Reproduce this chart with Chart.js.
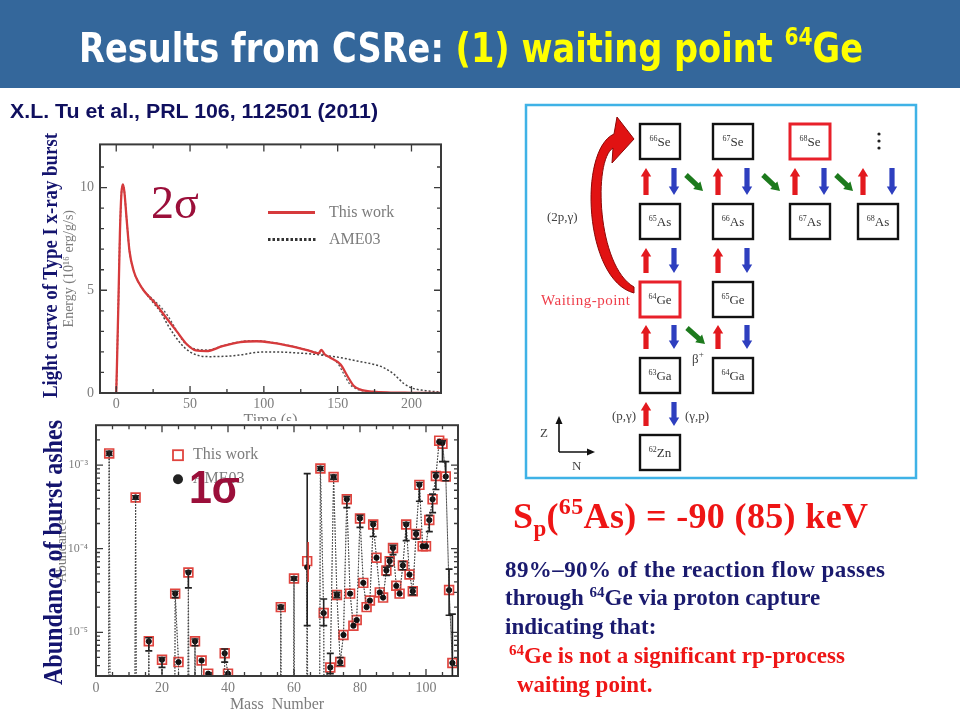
<!DOCTYPE html>
<html>
<head>
<meta charset="utf-8">
<script src="https://cdn.jsdelivr.net/npm/chart.js@4.4.1/dist/chart.umd.min.js"></script>
<style>
  body { margin: 0; width: 960px; height: 720px; background: #fff; position: relative; overflow: hidden; }
  canvas { position: absolute; }
  #curve { left: 55px; top: 130px; width: 400px; height: 302px; }
  #cover { position: absolute; left: 55px; top: 421px; width: 408px; height: 294px; background: #fff; }
  #ashes { left: 55px; top: 410px; width: 408px; height: 305px; }
  #page { position: absolute; left: 0; top: 0; }
</style>
</head>
<body>
<canvas id="curve" width="400" height="302"></canvas>
<div id="cover"></div>
<canvas id="ashes" width="408" height="305"></canvas>

<svg id="page" width="960" height="720" xmlns="http://www.w3.org/2000/svg">
  <rect x="0" y="0" width="960" height="88" fill="#34679b"/>
  <text x="79" y="62" font-family="Liberation Sans Narrow, DejaVu Sans Condensed, sans-serif" font-weight="bold" font-size="40" fill="#fff" textLength="784" lengthAdjust="spacingAndGlyphs">Results from CSRe: <tspan fill="#ffff00">(1) waiting point <tspan font-size="24" dy="-17">64</tspan><tspan dy="17">Ge</tspan></tspan></text>

  <text x="10" y="118" font-family="Liberation Sans, Arial, sans-serif" font-weight="bold" font-size="20" fill="#0f0f5e" textLength="368" lengthAdjust="spacingAndGlyphs">X.L. Tu et al., PRL 106, 112501 (2011)</text>

  <text transform="translate(57,398) rotate(-90)" font-family="Liberation Serif, serif" font-weight="bold" font-size="20" fill="#14146e" textLength="265" lengthAdjust="spacingAndGlyphs">Light curve of Type I x-ray burst</text>
  <text transform="translate(62,685) rotate(-90)" font-family="Liberation Serif, serif" font-weight="bold" font-size="28" fill="#14146e" textLength="265" lengthAdjust="spacingAndGlyphs">Abundance of burst ashes</text>

  <text x="151" y="218" font-family="Liberation Serif, serif" font-size="46" fill="#9b0f3a">2σ</text>
  <text x="189" y="503" font-family="Liberation Sans, Arial, sans-serif" font-weight="bold" font-size="46" fill="#9b0f3a" textLength="51" lengthAdjust="spacingAndGlyphs">1σ</text>

  <rect x="526" y="105" width="390" height="373" fill="none" stroke="#3fb2e6" stroke-width="2.5"/>
  <g id="diagram"></g>

  <text x="513" y="528" font-family="Liberation Serif, serif" font-weight="bold" font-size="36" fill="#ee1515" textLength="355">S<tspan font-size="23" dy="8">p</tspan><tspan dy="-8">(</tspan><tspan font-size="24" dy="-14">65</tspan><tspan dy="14">As) = -90 (85) keV</tspan></text>
  <g font-family="Liberation Serif, serif" font-weight="bold" font-size="23">
    <text x="505" y="577" fill="#1a1a6e" textLength="380">89%–90% of the reaction flow passes</text>
    <text x="505" y="605" fill="#1a1a6e">through <tspan font-size="15" dy="-8">64</tspan><tspan dy="8">Ge via proton capture</tspan></text>
    <text x="505" y="634" fill="#1a1a6e">indicating that:</text>
    <text x="509" y="663" fill="#ee1515"><tspan font-size="15" dy="-8">64</tspan><tspan dy="8">Ge is not a significant rp-process</tspan></text>
    <text x="517" y="692" fill="#ee1515">waiting point.</text>
  </g>
</svg>

<script>
// light curve (Energy, 10^16 erg/g/s vs time, s)
const timeThisWork = [0, 0.5, 1.5, 2.5, 3.5, 4.5, 5.5, 7, 9, 12, 15, 19, 26, 34, 41, 48, 54, 61, 72, 84,
  95, 106, 118, 130, 137, 139, 141, 145, 152, 156, 161, 165, 174, 186, 200, 220];
const energyThisWork = [0, 1.4, 4.5, 7.8, 9.7, 10.15, 9.8, 8.5, 6.9, 5.9, 5.4, 4.95, 4.4, 3.65, 3.0, 2.36, 2.07, 2.04, 2.28, 2.48,
  2.52, 2.44, 2.28, 2.07, 1.93, 2.1, 1.9, 1.72, 1.39, 0.9, 0.34, 0.18, 0.06, 0.02, 0.01, 0];
const timeAme03 = [0, 0.5, 1.5, 2.5, 3.5, 4.5, 5.5, 7, 9, 12, 15, 19, 25, 30, 35, 40, 45, 50, 56, 63,
  77, 85, 95, 106, 118, 129, 140, 152, 163, 174, 181, 188, 195, 200, 208, 220];
const energyAme03 = [0, 1.4, 4.5, 7.8, 9.7, 10.15, 9.8, 8.5, 6.9, 5.9, 5.4, 4.95, 4.4, 3.95, 3.3, 2.75, 2.3, 2.0, 1.82, 1.77,
  1.8, 1.86, 1.98, 2.0, 1.97, 1.92, 1.84, 1.72, 1.56, 1.4, 1.24, 0.92, 0.45, 0.25, 0.13, 0.04];
// second dotted curve that runs just above the red one
const timeDotted2 = [19, 25, 30, 35, 40, 45, 50, 55, 62, 72, 84, 95, 106, 118, 130, 140, 146, 150, 154, 158, 162, 170, 180];
const energyDotted2 = [4.95, 4.55, 4.2, 3.75, 3.15, 2.55, 2.25, 2.12, 2.1, 2.3, 2.5, 2.55, 2.46, 2.3, 2.08, 1.88, 1.7, 1.45, 0.95, 0.45, 0.22, 0.08, 0.03];
const timeTicks = [0, 50, 100, 150, 200];
const timeMinorTicks = [25, 75, 125, 175];
const energyTicks = [0, 5, 10];
const energyMinorTicks = [1, 2, 3, 4, 6, 7, 8, 9, 11];

// burst ashes (abundance vs mass number)
const massNumber = [4, 12, 16, 20, 24, 25, 28, 30, 32, 34, 39, 40, 56, 60, 64, 68, 69, 71,
  72, 73, 74, 75, 76, 77, 78, 79, 80, 81, 82, 83, 84, 85, 86, 87, 88, 89, 90,
  91, 92, 93, 94, 95, 96, 97, 98, 99, 100, 101, 102, 103, 104, 105, 106, 107, 108];
const abundThisWork = [1.38e-3, 4.1e-4, 7.8e-6, 4.7e-6, 2.9e-5, 4.4e-6, 5.2e-5, 7.8e-6, 4.6e-6, 3.2e-6, 5.6e-6, 3.2e-6, 2.0e-5, 4.4e-5, 7.1e-5, 9.1e-4, 1.7e-5, 3.8e-6,
  7.2e-4, 2.8e-5, 4.4e-6, 9.3e-6, 3.9e-4, 2.9e-5, 1.2e-5, 1.4e-5, 2.3e-4, 3.9e-5, 2.0e-5, 2.4e-5, 1.95e-4, 7.8e-5, 3.0e-5, 2.6e-5, 5.5e-5, 7.1e-5, 1.02e-4,
  3.6e-5, 2.9e-5, 6.3e-5, 1.95e-4, 4.9e-5, 3.1e-5, 1.5e-4, 5.8e-4, 1.07e-4, 1.07e-4, 2.2e-4, 3.9e-4, 7.4e-4, 1.96e-3, 1.8e-3, 7.3e-4, 3.2e-5, 4.3e-6];
const abundAme03 = [1.38e-3, 4.1e-4, 7.8e-6, 4.7e-6, 2.9e-5, 4.4e-6, 5.2e-5, 7.8e-6, 4.6e-6, 3.2e-6, 5.6e-6, 3.2e-6, 2.0e-5, 4.4e-5, 6.0e-5, 9.1e-4, 1.7e-5, 3.8e-6,
  7.2e-4, 2.8e-5, 4.4e-6, 9.3e-6, 3.9e-4, 2.9e-5, 1.2e-5, 1.4e-5, 2.3e-4, 3.9e-5, 2.0e-5, 2.4e-5, 1.95e-4, 7.8e-5, 3.0e-5, 2.6e-5, 5.5e-5, 7.1e-5, 1.02e-4,
  3.6e-5, 2.9e-5, 6.3e-5, 1.95e-4, 4.9e-5, 3.1e-5, 1.5e-4, 5.8e-4, 1.07e-4, 1.07e-4, 2.2e-4, 3.9e-4, 7.4e-4, 1.9e-3, 1.85e-3, 7.3e-4, 3.2e-5, 4.3e-6];
const ameLow = [1.3e-3, 3.9e-4, 6.0e-6, 3.8e-6, 2.6e-5, null, 3.4e-5, 6.9e-6, null, null, 4.4e-6, null, 1.9e-5, 4.2e-5, 1.2e-5, 8.6e-4, 1.2e-5, 3.2e-6,
  6.8e-4, 2.6e-5, 4.0e-6, null, 3.1e-4, null, null, null, 1.8e-4, null, null, null, 1.4e-4, null, null, null, 4.8e-5, 6.2e-5, 8.5e-5,
  null, null, 5.6e-5, 1.25e-4, null, 2.8e-5, 1.3e-4, 3.7e-4, null, null, 1.6e-4, 2.7e-4, 5.1e-4, null, 1.1e-3, 6.5e-4, 1.6e-5, 1e-7];
const ameHigh = [1.46e-3, 4.3e-4, 8.6e-6, 5.0e-6, 3.1e-5, null, 5.4e-5, 8.3e-6, null, null, 6.3e-6, null, 2.1e-5, 4.6e-5, 7.9e-4, 9.6e-4, 2.5e-5, 5.6e-6,
  7.6e-4, 3.0e-5, 5.0e-6, null, 4.2e-4, null, null, null, 2.5e-4, null, null, null, 2.1e-4, null, null, null, 6.0e-5, 7.8e-5, 1.1e-4,
  null, null, 7.0e-5, 2.05e-4, null, 3.4e-5, 1.65e-4, 6.2e-4, null, null, 2.5e-4, 4.5e-4, 8.1e-4, null, 1.95e-3, 1.1e-3, 5.7e-5, 1.65e-5];
const thisWorkErrMass = [64];
const thisWorkErrLow = [4.0e-5];
const thisWorkErrHigh = [1.2e-4];
// mass numbers where the dotted curve leaves the plot through the bottom
const offScaleMass = [3, 5, 11, 13, 15, 17, 19, 21, 23, 26, 27, 29, 31, 33, 35, 38, 41, 55, 57, 59, 61, 63, 65, 67, 70, 109];
const belowAxis = 1e-15;
const massTicks = [0, 20, 40, 60, 80, 100];
const massMinorTicks = [5, 10, 15, 25, 30, 35, 45, 50, 55, 65, 70, 75, 85, 90, 95, 105];
const abundTicks = [1e-5, 1e-4, 1e-3];
const abundTickLabels = ['10⁻⁵', '10⁻⁴', '10⁻³'];

const GRAY = '#7c7c7c';
const SERIF = 'Liberation Serif';

const xy = (xs, ys) => xs.map((v, i) => ({x: v, y: ys[i]}));

function withDrops(values) {
  const pts = massNumber.map((m, i) => ({x: m, y: values[i]}));
  offScaleMass.forEach(m => pts.push({x: m, y: belowAxis}));
  return pts.sort((p, q) => p.x - q.x);
}

const abundMinorTicks = [];
[1e-6, 1e-5, 1e-4, 1e-3].forEach(d => {
  for (let k = 2; k <= 9; k++) if (d * k > 3e-6 && d * k < 3e-3) abundMinorTicks.push(d * k);
});

// box outline with inward ticks on all four sides
const frameTicks = {
  id: 'frameTicks',
  afterDatasetsDraw(chart, args, opts) {
    const {ctx, chartArea: a, scales: {x, y}} = chart;
    ctx.save();
    ctx.strokeStyle = '#3a3a3a';
    ctx.lineWidth = 1.3;
    const xt = (vals, len) => vals.forEach(v => {
      const p = x.getPixelForValue(v);
      ctx.beginPath();
      ctx.moveTo(p, a.bottom); ctx.lineTo(p, a.bottom - len);
      ctx.moveTo(p, a.top); ctx.lineTo(p, a.top + len);
      ctx.stroke();
    });
    const yt = (vals, len) => vals.forEach(v => {
      const p = y.getPixelForValue(v);
      ctx.beginPath();
      ctx.moveTo(a.left, p); ctx.lineTo(a.left + len, p);
      ctx.moveTo(a.right, p); ctx.lineTo(a.right - len, p);
      ctx.stroke();
    });
    xt(opts.xMajor, 7); xt(opts.xMinor, 4);
    yt(opts.yMajor, 7); yt(opts.yMinor, 4);
    ctx.lineWidth = 2;
    ctx.strokeRect(a.left, a.top, a.right - a.left, a.bottom - a.top);
    ctx.restore();
  }
};

const insideLegend = {
  id: 'insideLegend',
  afterDraw(chart, args, opts) {
    const {ctx, chartArea: a} = chart;
    ctx.save();
    ctx.font = '16px ' + SERIF;
    ctx.textBaseline = 'middle';
    opts.items.forEach(it => {
      const x = a.left + it.dx, y = a.top + it.dy;
      ctx.strokeStyle = it.color;
      ctx.fillStyle = it.color;
      if (it.kind === 'line') {
        ctx.lineWidth = it.width;
        ctx.setLineDash(it.dash || []);
        ctx.beginPath(); ctx.moveTo(x, y); ctx.lineTo(x + it.len, y); ctx.stroke();
        ctx.setLineDash([]);
      } else if (it.kind === 'square') {
        ctx.lineWidth = 1.8;
        ctx.strokeRect(x - 5, y - 5, 10, 10);
      } else {
        ctx.beginPath(); ctx.arc(x, y, 5, 0, Math.PI * 2); ctx.fill();
      }
      ctx.fillStyle = GRAY;
      ctx.fillText(it.text, a.left + it.tx, y);
    });
    ctx.restore();
  }
};

const errorBars = {
  id: 'errorBars',
  afterDatasetsDraw(chart, args, opts) {
    const {ctx, chartArea: a, scales: {x, y}} = chart;
    ctx.save();
    ctx.beginPath(); ctx.rect(a.left, a.top, a.right - a.left, a.bottom - a.top); ctx.clip();
    opts.sets.forEach(s => {
      ctx.strokeStyle = s.color;
      ctx.lineWidth = s.width;
      s.x.forEach((m, i) => {
        if (s.low[i] == null) return;
        const px = x.getPixelForValue(m + s.shift);
        const y1 = y.getPixelForValue(s.low[i]), y2 = y.getPixelForValue(s.high[i]);
        ctx.beginPath();
        ctx.moveTo(px, y1); ctx.lineTo(px, y2);
        if (s.cap) {
          ctx.moveTo(px - s.cap, y1); ctx.lineTo(px + s.cap, y1);
          ctx.moveTo(px - s.cap, y2); ctx.lineTo(px + s.cap, y2);
        }
        ctx.stroke();
      });
    });
    ctx.restore();
  }
};

new Chart(document.getElementById('curve'), {
  type: 'line',
  data: {
    datasets: [
      {label: 'This work', data: xy(timeThisWork, energyThisWork), borderColor: '#d63a3c', borderWidth: 2.3,
       pointRadius: 0, cubicInterpolationMode: 'monotone'},
      {label: 'AME03', data: xy(timeAme03, energyAme03), borderColor: '#444', borderWidth: 1.5, borderDash: [2, 2],
       pointRadius: 0, cubicInterpolationMode: 'monotone'},
      {label: 'AME03 b', data: xy(timeDotted2, energyDotted2), borderColor: '#555', borderWidth: 1.3, borderDash: [2, 2],
       pointRadius: 0, cubicInterpolationMode: 'monotone'}
    ]
  },
  options: {
    responsive: false,
    animation: false,
    layout: {padding: {left: 0, right: 14, top: 8, bottom: 0}},
    plugins: {
      legend: {display: false},
      tooltip: {enabled: false},
      frameTicks: {xMajor: timeTicks, xMinor: timeMinorTicks, yMajor: energyTicks, yMinor: energyMinorTicks},
      insideLegend: {items: [
        {kind: 'line', color: '#d63a3c', width: 3, dx: 168, dy: 68, len: 47, text: 'This work', tx: 229},
        {kind: 'line', color: '#333', width: 3, dash: [2.5, 2], dx: 168, dy: 95, len: 49, text: 'AME03', tx: 229}
      ]}
    },
    scales: {
      x: {
        type: 'linear', min: -11, max: 220,
        grid: {display: false, drawTicks: false}, border: {display: false},
        afterBuildTicks: s => { s.ticks = timeTicks.map(v => ({value: v})); },
        afterFit: s => { s.height = 39; },
        ticks: {color: GRAY, font: {family: SERIF, size: 14}, padding: 3, maxRotation: 0},
        title: {display: true, text: 'Time (s)', color: GRAY, font: {family: SERIF, size: 16}, padding: {top: 0, bottom: 2}}
      },
      y: {
        min: 0, max: 12.1,
        grid: {display: false, drawTicks: false}, border: {display: false},
        afterBuildTicks: s => { s.ticks = energyTicks.map(v => ({value: v})); },
        afterFit: s => { s.width = 45; },
        ticks: {color: GRAY, font: {family: SERIF, size: 14}, padding: 6},
        title: {display: true, text: 'Energy (10¹⁶ erg/g/s)', color: GRAY, font: {family: SERIF, size: 14}, padding: {top: 6, bottom: 0}}
      }
    }
  },
  plugins: [frameTicks, insideLegend]
});

new Chart(document.getElementById('ashes'), {
  type: 'line',
  data: {
    datasets: [
      {label: 'AME03', data: withDrops(abundAme03), borderColor: '#4a4a4a', borderWidth: 1, borderDash: [1.5, 1.5],
       pointStyle: 'circle', pointBackgroundColor: '#111', pointBorderColor: '#111',
       pointRadius: c => (c.raw && c.raw.y > 3e-6 ? 2.6 : 0)},
      {label: 'This work', data: withDrops(abundThisWork), borderColor: '#6a6a6a', borderWidth: 1, borderDash: [1.5, 1.5],
       pointStyle: 'rect', pointBackgroundColor: 'rgba(0,0,0,0)', pointBorderColor: '#e0443e', pointBorderWidth: 1.7,
       pointRadius: c => (c.raw && c.raw.y > 3e-6 ? 6.2 : 0)}
    ]
  },
  options: {
    responsive: false,
    animation: false,
    layout: {padding: {left: 0, right: 5, top: 3, bottom: 0}},
    plugins: {
      legend: {display: false},
      tooltip: {enabled: false},
      frameTicks: {xMajor: massTicks, xMinor: massMinorTicks, yMajor: abundTicks, yMinor: abundMinorTicks},
      errorBars: {sets: [
        {x: massNumber, low: ameLow, high: ameHigh, color: '#222', width: 1.6, cap: 3.5, shift: 0},
        {x: thisWorkErrMass, low: thisWorkErrLow, high: thisWorkErrHigh, color: '#e0443e', width: 1.6, cap: 0, shift: 0.3}
      ]},
      insideLegend: {items: [
        {kind: 'square', color: '#e0443e', dx: 82, dy: 30, text: 'This work', tx: 97},
        {kind: 'dot', color: '#222', dx: 82, dy: 54, text: 'AME03', tx: 97}
      ]}
    },
    scales: {
      x: {
        type: 'linear', min: 0, max: 109.7,
        grid: {display: false, drawTicks: false}, border: {display: false},
        afterBuildTicks: s => { s.ticks = massTicks.map(v => ({value: v})); },
        afterFit: s => { s.height = 39; },
        ticks: {color: GRAY, font: {family: SERIF, size: 14}, padding: 4, maxRotation: 0},
        title: {display: true, text: 'Mass  Number', color: GRAY, font: {family: SERIF, size: 16}, padding: {top: 0, bottom: 1}}
      },
      y: {
        type: 'logarithmic', min: 3e-6, max: 3e-3,
        grid: {display: false, drawTicks: false}, border: {display: false},
        afterBuildTicks: s => { s.ticks = abundTicks.map(v => ({value: v})); },
        afterFit: s => { s.width = 41; },
        ticks: {color: GRAY, font: {family: SERIF, size: 12}, padding: 8, callback: (v, i) => abundTickLabels[i]},
        title: {display: true, text: 'Abundance', color: GRAY, font: {family: SERIF, size: 14}, padding: {top: -1, bottom: 0}}
      }
    }
  },
  plugins: [frameTicks, errorBars, insideLegend]
});

// reaction network diagram
const nuclei = [
  ['66', 'Se', 640, 124, false], ['67', 'Se', 713, 124, false], ['68', 'Se', 790, 124, true],
  ['65', 'As', 640, 204, false], ['66', 'As', 713, 204, false], ['67', 'As', 790, 204, false], ['68', 'As', 858, 204, false],
  ['64', 'Ge', 640, 282, true], ['65', 'Ge', 713, 282, false],
  ['63', 'Ga', 640, 358, false], ['64', 'Ga', 713, 358, false],
  ['62', 'Zn', 640, 435, false]
];
const RED = '#e3191e', BLUE = '#2e3fbf', GREEN = '#1d7a1d';
const flows = [];
[[168, 195, [646, 718, 795, 863], [674, 747, 824, 892]],
 [248, 273, [646, 718], [674, 747]],
 [325, 349, [646, 718], [674, 747]],
 [402, 426, [646], [674]]].forEach(([top, bot, ups, downs]) => {
  ups.forEach(x => flows.push([x, bot, x, top, RED]));
  downs.forEach(x => flows.push([x, top, x, bot, BLUE]));
});
flows.push([686, 175, 703, 191, GREEN], [763, 175, 780, 191, GREEN], [836, 175, 853, 191, GREEN], [687, 328, 705, 344, GREEN]);

function blockArrow(x1, y1, x2, y2, color) {
  const L = Math.hypot(x2 - x1, y2 - y1), ux = (x2 - x1) / L, uy = (y2 - y1) / L, nx = -uy, ny = ux;
  const sw = 2.6, hw = 5.2, hl = 8.5;
  const bx = x2 - ux * hl, by = y2 - uy * hl;
  const pts = [[x1 + nx * sw, y1 + ny * sw], [bx + nx * sw, by + ny * sw], [bx + nx * hw, by + ny * hw], [x2, y2],
    [bx - nx * hw, by - ny * hw], [bx - nx * sw, by - ny * sw], [x1 - nx * sw, y1 - ny * sw]];
  return `<polygon points="${pts.map(p => p[0].toFixed(1) + ',' + p[1].toFixed(1)).join(' ')}" fill="${color}"/>`;
}

let svg = '';
nuclei.forEach(([a, el, x, y, hi]) => {
  svg += `<rect x="${x}" y="${y}" width="40" height="35" fill="#fff" stroke="${hi ? '#e8202a' : '#111'}" stroke-width="${hi ? 3 : 2.4}"/>`;
  svg += `<text x="${x + 20}" y="${y + 22}" text-anchor="middle" font-family="Liberation Serif, serif" font-size="13" fill="#333">` +
    `<tspan font-size="8" dy="-5">${a}</tspan><tspan dy="5">${el}</tspan></text>`;
});
flows.forEach(f => { svg += blockArrow(...f); });
svg += `<path d="M634 293 C584 280 578 150 614 134 L617 117 L634 139 L612 163 L613 148 C593 160 597 266 634 287 Z" fill="#e11212" stroke="#8c0606" stroke-width="1"/>`;
svg += '<circle cx="879" cy="134" r="1.6" fill="#222"/><circle cx="879" cy="141" r="1.6" fill="#222"/><circle cx="879" cy="148" r="1.6" fill="#222"/>';
svg += `<g font-family="Liberation Serif, serif" font-size="13" fill="#444">
  <text x="547" y="221">(2p,γ)</text>
  <text x="612" y="420">(p,γ)</text>
  <text x="685" y="420">(γ,p)</text>
  <text x="692" y="363">β<tspan font-size="9" dy="-6">+</tspan></text>
  <text x="540" y="437">Z</text>
  <text x="572" y="470">N</text>
</g>`;
svg += `<text x="541" y="305" font-family="Liberation Serif, serif" font-size="15" fill="#ef3e4a" textLength="89">Waiting-point</text>`;
svg += `<path d="M559 452 L559 421 M559 452 L590 452" stroke="#111" stroke-width="1.6" fill="none"/>`;
svg += `<polygon points="559,416 555.5,424 562.5,424" fill="#111"/><polygon points="595,452 587,448.5 587,455.5" fill="#111"/>`;
document.getElementById('diagram').innerHTML = svg;
</script>
</body>
</html>
